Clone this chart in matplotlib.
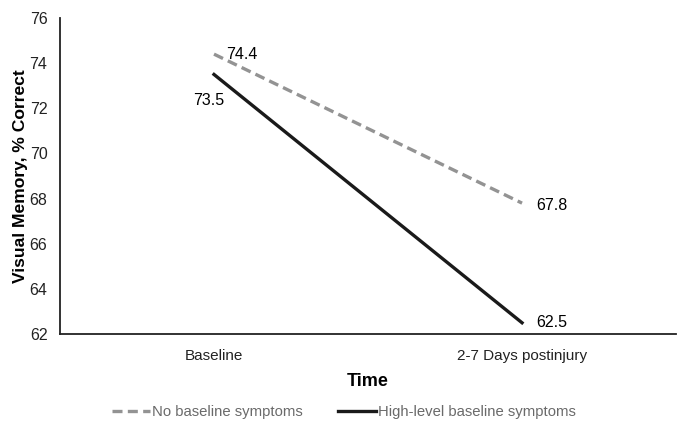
import matplotlib.pyplot as plt
from matplotlib.lines import Line2D

plt.rcParams['font.family'] = ['Liberation Sans', 'DejaVu Sans']

categories = ['Baseline', '2-7 Days postinjury']
no_symptoms = [74.4, 67.8]
high_symptoms = [73.5, 62.5]
yticks = [62, 64, 66, 68, 70, 72, 74, 76]

fig = plt.figure(figsize=(6.77, 4.25), dpi=100)
ax = fig.add_axes([0.0886, 0.214, 0.91, 0.7436])

x = range(len(categories))
ax.plot(x, no_symptoms, color='#939393', lw=2.4, ls=(0, (3, 1.6)),
        label='No baseline symptoms')
ax.plot(x, high_symptoms, color='#1a1a1a', lw=2.4,
        label='High-level baseline symptoms')

# value labels
fs = 11.5
ax.annotate(f'{no_symptoms[0]}', (0, no_symptoms[0]), xytext=(9, 0),
            textcoords='offset points', ha='left', va='center', fontsize=fs)
ax.annotate(f'{high_symptoms[0]}', (0, high_symptoms[0]), xytext=(7.5, -19),
            textcoords='offset points', ha='right', va='center', fontsize=fs)
ax.annotate(f'{no_symptoms[1]}', (1, no_symptoms[1]), xytext=(10, -1.5),
            textcoords='offset points', ha='left', va='center', fontsize=fs)
ax.annotate(f'{high_symptoms[1]}', (1, high_symptoms[1]), xytext=(10, 0),
            textcoords='offset points', ha='left', va='center', fontsize=fs)

ax.set_xlim(-0.5, 1.5)
ax.set_ylim(62, 76)
ax.set_yticks(yticks)
ax.set_xticks(list(x))
ax.set_xticklabels(categories)
ax.tick_params(length=0, labelsize=11, colors='#222222')
ax.tick_params(axis='y', labelsize=11.5, pad=9)
ax.tick_params(axis='x', pad=11)
for s in ['top', 'right']:
    ax.spines[s].set_visible(False)
for s in ['left', 'bottom']:
    ax.spines[s].set_color('#222222')
    ax.spines[s].set_linewidth(1.3)

ax.set_xlabel('Time', fontsize=13, fontweight='bold', labelpad=7)
ax.set_ylabel('Visual Memory, % Correct', fontsize=12.6, fontweight='bold', labelpad=1)

handles = [Line2D([], [], color='#939393', lw=2.4, ls=(0, (3, 1.6))),
           Line2D([], [], color='#1a1a1a', lw=2.4)]
leg = fig.legend(handles, ['No baseline symptoms', 'High-level baseline symptoms'],
                 loc='center', bbox_to_anchor=(0.508, 0.03), ncol=2, frameon=False,
                 fontsize=10.7, handlelength=2.55, handletextpad=0.15, columnspacing=2.35)
for t in leg.get_texts():
    t.set_color('#6a6a6a')

fig.savefig('out.png', dpi=100)
